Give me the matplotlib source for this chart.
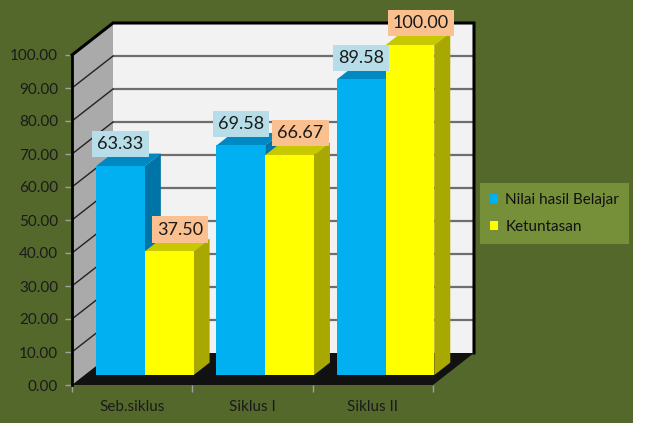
import matplotlib
matplotlib.use("Agg")
import matplotlib.pyplot as plt
from matplotlib.patches import Polygon, Rectangle, Patch

categories = ["Seb.siklus", "Siklus I", "Siklus II"]
series_names = ["Nilai hasil Belajar", "Ketuntasan"]
nilai = [63.33, 69.58, 89.58]
ketuntasan = [37.50, 66.67, 100.00]
yticks = [0, 10, 20, 30, 40, 50, 60, 70, 80, 90, 100]

W, H = 645, 423
fig = plt.figure(figsize=(W / 100, H / 100), dpi=100)
fig.patch.set_facecolor("#55682C")
plt.rcParams["font.family"] = ["Lato", "DejaVu Sans"]

# white strip on the right edge
fig.patches.append(Rectangle((633 / W, 0), 1, 1, transform=fig.transFigure,
                             facecolor="white", edgecolor="none", zorder=0))

# front plane of the 3D chart
x0p, x1p, y0p, y1p = 72, 433, 385, 55
ax = fig.add_axes([x0p / W, 1 - y0p / H, (x1p - x0p) / W, (y0p - y1p) / H])
ax.set_xlim(0, len(categories))
ax.set_ylim(0, 100)
ax.patch.set_visible(False)

# depth in data units
pxx = (x1p - x0p) / len(categories)
DX = 41 / pxx
DY = 32 / ((y0p - y1p) / 100)

def P(x, y, f):
    return (x + f * DX, y + f * DY)

n = len(categories)
# back wall
ax.add_patch(Polygon([P(0, 0, 1), P(n, 0, 1), P(n, 100, 1), P(0, 100, 1)],
                     closed=True, facecolor="#F2F2F2", edgecolor="none",
                     clip_on=False, zorder=1))
for v in yticks[1:-1]:
    ax.plot([P(0, v, 1)[0], P(n, v, 1)[0]], [P(0, v, 1)[1], P(n, v, 1)[1]],
            color="#6E6E6E", lw=1.6, clip_on=False, zorder=2)
# back wall top and right borders
ax.plot([P(0, 100, 0)[0], P(0, 100, 1)[0], P(n, 100, 1)[0], P(n, 0, 1)[0]],
        [P(0, 100, 0)[1], P(0, 100, 1)[1], P(n, 100, 1)[1], P(n, 0, 1)[1]],
        color="black", lw=2.2, clip_on=False, zorder=3, solid_joinstyle="miter")
# side wall
ax.add_patch(Polygon([P(0, 0, 0), P(0, 100, 0), P(0, 100, 1), P(0, 0, 1)],
                     closed=True, facecolor="#AAAAAA", edgecolor="none",
                     clip_on=False, zorder=2))
for v in yticks[1:-1]:
    ax.plot([P(0, v, 0)[0], P(0, v, 1)[0]], [P(0, v, 0)[1], P(0, v, 1)[1]],
            color="#222222", lw=1.0, clip_on=False, zorder=3)
# floor
ax.add_patch(Polygon([P(0, 0, 0), P(n, 0, 0), P(n, 0, 1), P(0, 0, 1)],
                     closed=True, facecolor="#111111", edgecolor="none",
                     clip_on=False, zorder=3))

# bars
f0, f1 = 0.31, 0.70
bw = 0.405
series = [nilai, ketuntasan]
front_c = ["#00B0F0", "#FFFF00"]
top_c = ["#0088C2", "#C8C800"]
side_c = ["#0074A6", "#A8A800"]
lab_c = ["#B7DEE8", "#FAC090"]
offs = [-bw, 0.0]
lab_dx = [0 / pxx, 11 / pxx]
z = 10
for i in range(n):
    for s in range(2):
        v = series[s][i]
        xa = i + 0.5 + offs[s]
        xb = xa + bw
        ax.add_patch(Polygon([P(xa, v, f0), P(xb, v, f0), P(xb, v, f1), P(xa, v, f1)],
                             closed=True, facecolor=top_c[s], edgecolor="none",
                             clip_on=False, zorder=z))
        ax.add_patch(Polygon([P(xb, 0, f0), P(xb, v, f0), P(xb, v, f1), P(xb, 0, f1)],
                             closed=True, facecolor=side_c[s], edgecolor="none",
                             clip_on=False, zorder=z))
        fx, fy = P(xa, 0, f0)
        ax.bar(fx, v, width=bw, bottom=fy, align="edge", color=front_c[s],
               edgecolor="none", clip_on=False, zorder=z + 1)
        z += 2

# data labels
for i in range(n):
    for s in range(2):
        v = series[s][i]
        xc = i + 0.5 + offs[s] + bw / 2
        lx, ly = P(xc, v, f0)
        ax.text(lx + lab_dx[s], ly + 6.6, f"{v:.2f}", ha="center", va="center",
                fontsize=13, color="#1A1A1A", zorder=50,
                bbox=dict(boxstyle="square,pad=0.28", facecolor=lab_c[s],
                          edgecolor="none"))

# axes styling
for sp in ["top", "right", "bottom"]:
    ax.spines[sp].set_visible(False)
ax.spines["left"].set_color("black")
ax.spines["left"].set_linewidth(2)
ax.spines["left"].set_zorder(5)
ax.set_yticks(yticks)
ax.set_yticklabels([f"{t:.2f}" for t in yticks])
ax.tick_params(axis="y", direction="out", length=5, width=1, color="#A0A0A0",
               labelsize=11, labelcolor="#1A1A1A", pad=5)
ax.set_xticks(range(n + 1))
ax.set_xticklabels([""] * (n + 1))
ax.set_xticks([i + 0.5 for i in range(n)], minor=True)
ax.set_xticklabels(categories, minor=True)
ax.tick_params(axis="x", which="major", direction="out", length=5, width=1,
               color="#A0A0A0")
ax.tick_params(axis="x", which="minor", length=0, labelsize=11,
               labelcolor="#1A1A1A", pad=11)

# legend
handles = [Patch(facecolor=c, edgecolor="none") for c in front_c]
leg = fig.legend(handles, series_names, loc="upper left",
                 bbox_to_anchor=(480 / W, 1 - 183 / H), borderaxespad=0,
                 frameon=True, fancybox=False, facecolor="#76903A",
                 edgecolor="none", framealpha=1, fontsize=11,
                 handlelength=0.55, handleheight=0.55, handletextpad=0.45,
                 labelspacing=0.85, borderpad=0.65)
for t in leg.get_texts():
    t.set_color("#111111")

fig.savefig("out.png", dpi=100, facecolor=fig.get_facecolor())
